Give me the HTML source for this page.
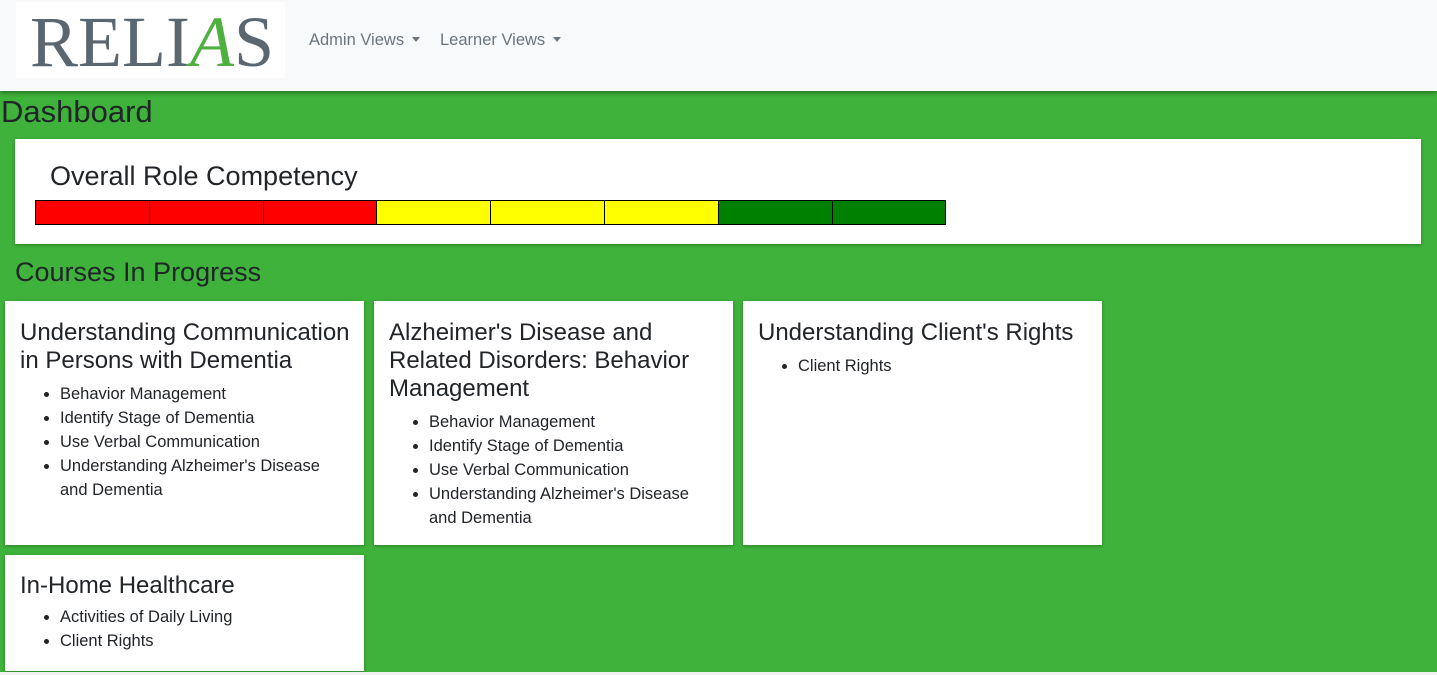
<!DOCTYPE html>
<html><head><meta charset="utf-8"><style>
*{box-sizing:border-box;margin:0;padding:0}
body{width:1437px;height:675px;overflow:hidden;background:#3eb23a;font-family:"Liberation Sans",sans-serif;color:#212529;position:relative}
.nav{position:absolute;left:0;top:0;width:1437px;height:91px;background:#f8f9fa;box-shadow:0 2px 4px rgba(0,0,0,.35)}
.logo{position:absolute;left:16px;top:2px;width:269px;height:76px;background:#fff;overflow:hidden;white-space:nowrap}
.logo .t{position:absolute;left:14px;top:-1px;font-family:"Liberation Serif",serif;font-size:72px;color:#5a6670;transform:scaleX(1.0);transform-origin:left}
.navlink{position:absolute;top:31px;font-size:16.5px;color:#6c757d}
.navlink:after{content:"";display:inline-block;margin-left:8px;vertical-align:3px;border-top:5px solid #6c757d;border-left:4px solid transparent;border-right:4px solid transparent}
h1{position:absolute;left:1px;top:94px;font-size:31px;font-weight:normal}
.card{position:absolute;background:#fff;box-shadow:0 1px 3px rgba(0,0,0,.3)}
.card h3{font-size:24px;font-weight:normal;line-height:28px;white-space:nowrap}
.card ul{margin-top:7px;padding-left:40px;font-size:16.5px;line-height:24px;white-space:nowrap}
h2{position:absolute;left:15px;top:257px;font-size:27px;font-weight:normal}
.seg{position:absolute;top:200px;height:25px;border:1px solid #000}
</style></head><body>
<div class="nav">
 <div class="logo"><span class="t">REL<span>I</span><span style="color:#4db040;font-style:italic">A</span>S</span></div>
 <div class="navlink" style="left:309px">Admin Views</div>
 <div class="navlink" style="left:440px">Learner Views</div>
</div>
<h1>Dashboard</h1>
<div class="card" style="left:15px;top:139px;width:1406px;height:105px">
 <div style="position:absolute;left:35px;top:22px;font-size:27px">Overall Role Competency</div>
</div>
<div id="bar"></div>
<h2>Courses In Progress</h2>
<div class="card" style="left:5px;top:301px;width:359px;height:244px;padding:18px 15px">
 <h3>Understanding Communication<br>in Persons with Dementia</h3>
 <ul><li>Behavior Management</li><li>Identify Stage of Dementia</li><li>Use Verbal Communication</li><li>Understanding Alzheimer's Disease<br>and Dementia</li></ul>
</div>
<div class="card" style="left:374px;top:301px;width:359px;height:244px;padding:18px 15px">
 <h3>Alzheimer's Disease and<br>Related Disorders: Behavior<br>Management</h3>
 <ul><li>Behavior Management</li><li>Identify Stage of Dementia</li><li>Use Verbal Communication</li><li>Understanding Alzheimer's Disease<br>and Dementia</li></ul>
</div>
<div class="card" style="left:743px;top:301px;width:359px;height:244px;padding:18px 15px">
 <h3>Understanding Client's Rights</h3>
 <ul><li>Client Rights</li></ul>
</div>
<div class="card" style="left:5px;top:555px;width:359px;height:116px;padding:17px 15px">
 <h3>In-Home Healthcare</h3>
 <ul style="margin-top:5px"><li>Activities of Daily Living</li><li>Client Rights</li></ul>
</div>
<div style="position:absolute;left:0;top:672px;width:1437px;height:3px;background:#f0f0f0"></div>
<script>
const segmentColors=["#ff0000","#ff0000","#ff0000","#ffff00","#ffff00","#ffff00","#008000","#008000"];
const bar=document.getElementById('bar');
const x0=35,w=113.8;
segmentColors.forEach((c,i)=>{
 const d=document.createElement('div');
 d.className='seg';
 
 
 d.style.left=(x0+i*w)+'px';
 d.style.width=(w+1)+'px';
 d.style.background=c;
 bar.appendChild(d);
});
</script>
</body></html>
